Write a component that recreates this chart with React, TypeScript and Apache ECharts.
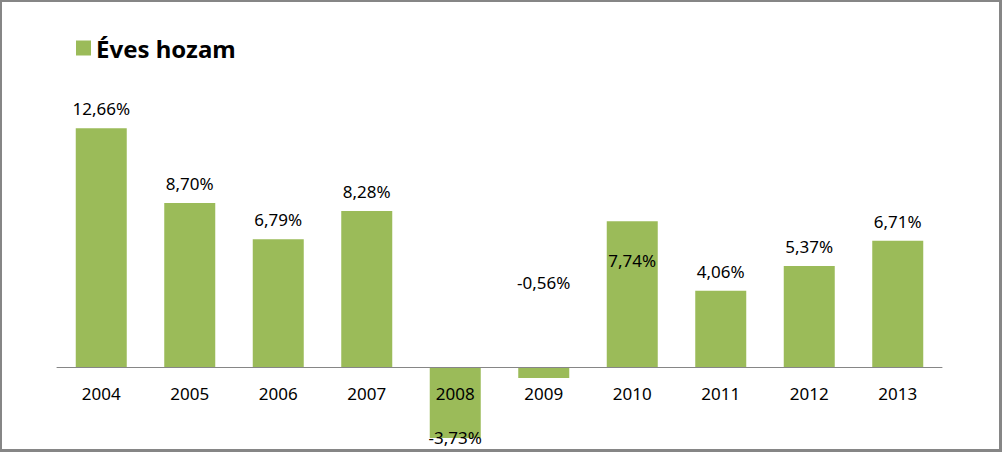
import React, { useEffect, useRef } from "react";
import * as echarts from "echarts";

const categories = ["2004", "2005", "2006", "2007", "2008", "2009", "2010", "2011", "2012", "2013"];
const values = [12.66, 8.70, 6.79, 8.28, -3.73, -0.56, 7.74, 4.06, 5.37, 6.71];
const seriesName = "Éves hozam";

const fmt = (v: number) => v.toFixed(2).replace(".", ",") + "%";

export default function App() {
  const ref = useRef<HTMLDivElement>(null);
  useEffect(() => {
    if (!ref.current) return;
    const chart = echarts.init(ref.current, undefined, { renderer: "svg" });
    const font = "Noto Sans";
    const data = values.map((v, i) => {
      const item: any = { value: v };
      if (categories[i] === "2008") {
        item.label = { position: "bottom", distance: -9 };
      } else if (categories[i] === "2009") {
        item.label = { position: "top", offset: [0, -65] };
      } else if (categories[i] === "2010") {
        item.label = { position: "insideTop", distance: 31 };
      }
      return item;
    });
    chart.setOption({
      animation: false,
      backgroundColor: "#ffffff",
      legend: {
        left: 71,
        top: 31,
        itemWidth: 15,
        itemHeight: 15,
        itemGap: 10,
        icon: "rect",
        textStyle: { fontFamily: font, fontWeight: "bold", fontSize: 24, color: "#000" },
        data: [seriesName],
      },
      grid: { left: 57, right: 60, top: 103, height: 340, outerBoundsMode: "none", containLabel: false },
      xAxis: {
        type: "category",
        data: categories,
        z: 10,
        axisLine: { onZero: true, lineStyle: { color: "#868686", width: 1 } },
        axisTick: { show: false },
        axisLabel: { fontFamily: font, fontSize: 17, color: "#000", margin: -58 },
        splitLine: { show: false },
      },
      yAxis: {
        type: "value",
        min: -4,
        max: 14,
        show: false,
        splitLine: { show: false },
      },
      series: [
        {
          name: seriesName,
          type: "bar",
          data,
          barWidth: 51,
          itemStyle: { color: "#9BBB59" },
          label: {
            show: true,
            position: "top",
            distance: 11,
            formatter: (p: any) => fmt(p.value),
            fontFamily: font,
            fontSize: 17,
            color: "#000",
          },
        },
      ],
      graphic: [
        { type: "rect", left: 0, top: 0, shape: { width: 1002, height: 2 }, style: { fill: "#868686" } },
        { type: "rect", left: 0, top: 0, shape: { width: 2, height: 452 }, style: { fill: "#868686" } },
        { type: "rect", left: 999, top: 0, shape: { width: 3, height: 452 }, style: { fill: "#868686" } },
        { type: "rect", left: 0, top: 449, shape: { width: 1002, height: 3 }, style: { fill: "#868686" } },
      ],
    });
    return () => chart.dispose();
  }, []);
  return (
    <div
      ref={ref}
      style={{ position: "absolute", left: 0, top: 0, width: 1002, height: 452 }}
    />
  );
}
